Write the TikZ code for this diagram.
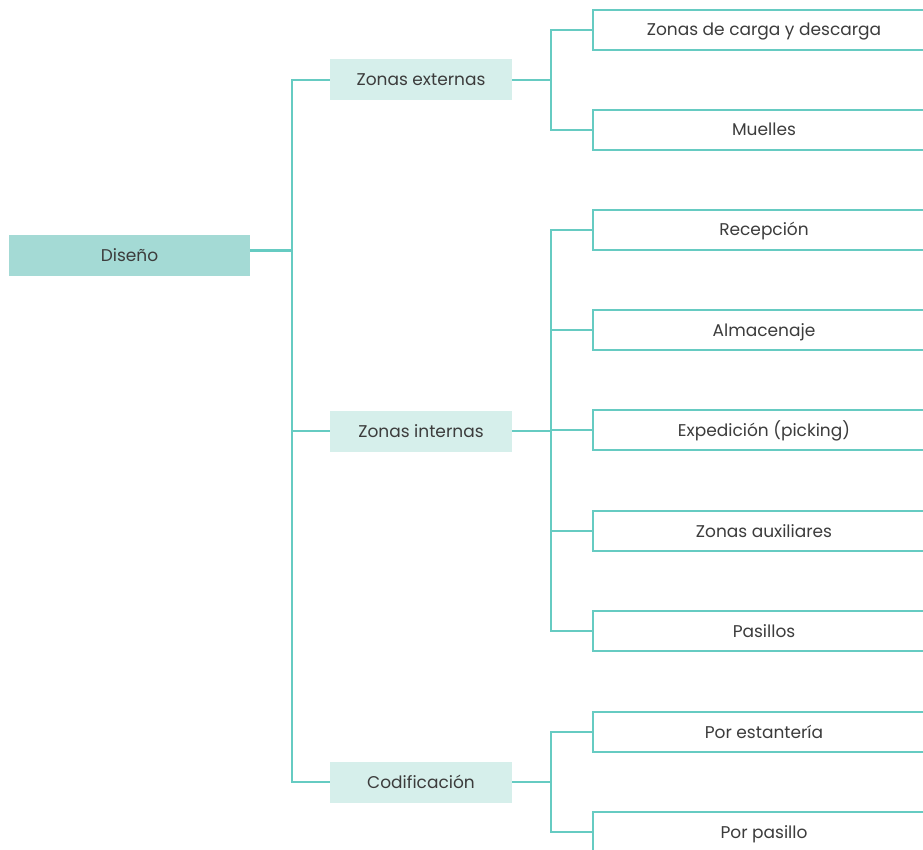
\documentclass[tikz,border=0pt]{standalone}
\usepackage{fontspec}
\setmainfont{Poppins}
\usetikzlibrary{calc}
\definecolor{linecol}{HTML}{66CBC2}
\definecolor{rootfill}{HTML}{A4DAD5}
\definecolor{midfill}{HTML}{D6EFEB}
\definecolor{txt}{HTML}{3C3C3C}
\tikzset{
  conn/.style={draw=linecol, line width=2.5pt},
  label/.style={inner sep=0pt, text=txt, font=\fontsize{17}{20}\selectfont, text height=12pt, text depth=0pt},
  rootbox/.style={label, fill=rootfill, draw=none, minimum width=241pt, minimum height=41pt},
  midbox/.style={label, fill=midfill, draw=none, minimum width=182pt, minimum height=41pt},
  leafbox/.style={label, draw=linecol, line width=2.5pt, fill=white, minimum width=342pt, minimum height=40pt},
}
\begin{document}
\begin{tikzpicture}[x=1pt, y=-1pt]
  \useasboundingbox (0,0) rectangle (923,850);
  \clip (0,0) rectangle (923,850);
  \fill[white] (0,0) rectangle (923,850);

  % root and first level
  \node[rootbox] (diseno) at (129.5,255.5) {Diseño};
  \node[midbox] (ze) at (421,80) {Zonas externas};
  \node[midbox] (zi) at (421,431) {Zonas internas};
  \node[midbox] (cod) at (421,782) {Codificación};

  % leaves (open to the right edge)
  \node[leafbox] (l1) at (764,30) {Zonas de carga y descarga};
  \node[leafbox] (l2) at (764,130) {Muelles};
  \node[leafbox] (l3) at (764,230) {Recepción};
  \node[leafbox] (l4) at (764,330) {Almacenaje};
  \node[leafbox] (l5) at (764,430) {Expedición (picking)};
  \node[leafbox] (l6) at (764,531) {Zonas auxiliares};
  \node[leafbox] (l7) at (764,631) {Pasillos};
  \node[leafbox] (l8) at (764,732) {Por estantería};
  \node[leafbox] (l9) at (764,832) {Por pasillo};

  % trunk from the root
  \coordinate (t) at (292,0);
  \coordinate (r) at ($(diseno.east)+(0,-5)$);
  \draw[conn] (ze.west) -| (cod.west -| t) -- (cod.west);
  \draw[conn] (zi.west) -- (zi.west -| t);
  \draw[conn] (r) -- (r -| t);

  % brackets to the leaves
  \coordinate (b) at (551,0);
  \draw[conn] (ze.east) -- (ze.east -| b);
  \draw[conn] (l1.west) -| (b |- l1.west) |- (l2.west);
  \draw[conn] (zi.east) -- (zi.east -| b);
  \draw[conn] (l3.west) -| (b |- l3.west) |- (l7.west);
  \foreach \n in {l4,l5,l6} \draw[conn] (\n.west) -- (\n.west -| b);
  \draw[conn] (cod.east) -- (cod.east -| b);
  \draw[conn] (l8.west) -| (b |- l8.west) |- (l9.west);
\end{tikzpicture}
\end{document}
